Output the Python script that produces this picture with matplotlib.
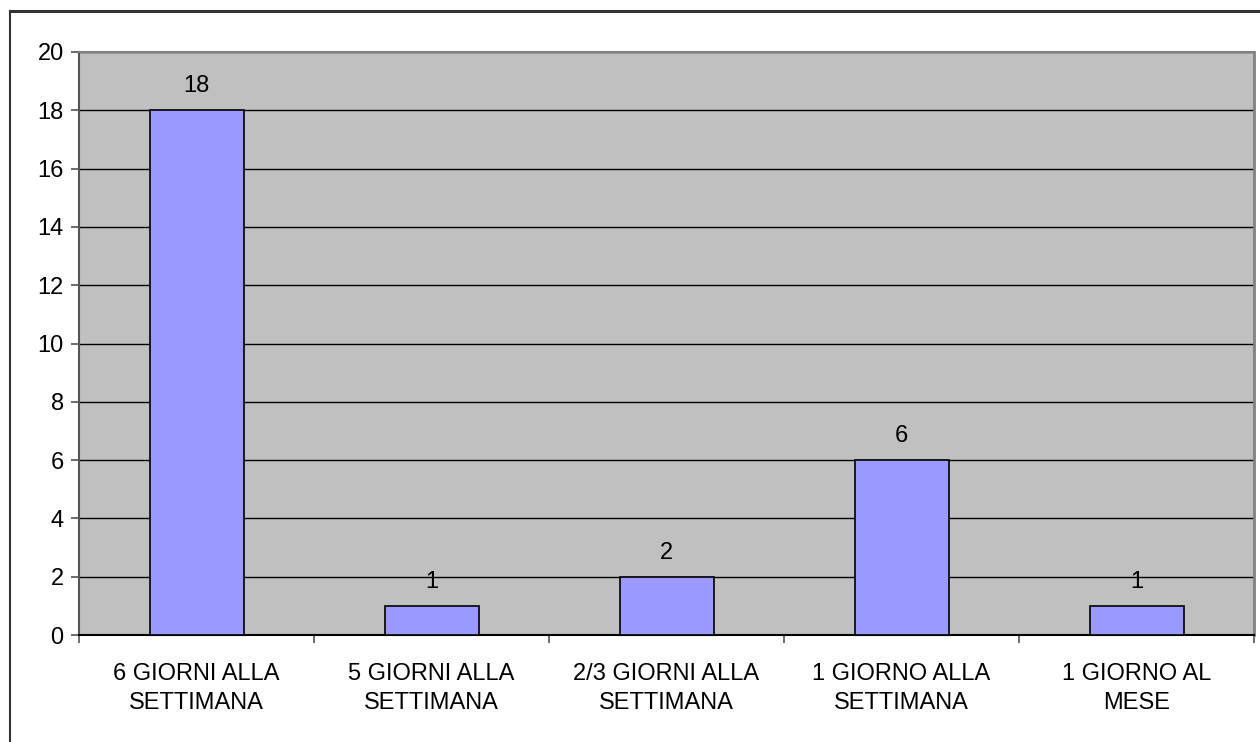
import matplotlib
matplotlib.use("Agg")
import matplotlib.pyplot as plt
from matplotlib.lines import Line2D

categories = ["6 GIORNI ALLA\nSETTIMANA", "5 GIORNI ALLA\nSETTIMANA", "2/3 GIORNI ALLA\nSETTIMANA",
              "1 GIORNO ALLA\nSETTIMANA", "1 GIORNO AL\nMESE"]
values = [18, 1, 2, 6, 1]
yticks = list(range(0, 21, 2))

plt.rcParams['font.family'] = ['Liberation Sans', 'DejaVu Sans']

W, H = 1260, 742
FS = 17
fig = plt.figure(figsize=(W / 100, H / 100), dpi=100)
fig.patch.set_facecolor('white')

# outer frame (top and left visible)
fig.add_artist(Line2D([9.5 / W, 1.0], [1 - 10.5 / H, 1 - 10.5 / H], color='#333333', lw=2.2))
fig.add_artist(Line2D([9.5 / W, 9.5 / W], [0, 1 - 10.5 / H], color='#333333', lw=1.5))

left, right, top, bottom = 79, 1254, 52, 635
ax = fig.add_axes([left / W, 1 - bottom / H, (right - left) / W, (bottom - top) / H])
ax.set_facecolor('#C0C0C0')

x = list(range(len(categories)))
ax.bar(x, values, width=0.4, color='#9999FF', edgecolor='black', linewidth=1.2, zorder=3)
for xi, v in zip(x, values):
    ax.text(xi, v + 0.45, str(v), ha='center', va='bottom', fontsize=FS, color='black', zorder=4)

ax.set_xlim(-0.5, len(categories) - 0.5)
ax.set_ylim(0, 20)
ax.set_yticks(yticks)
ax.set_yticklabels([str(t) for t in yticks], fontsize=FS)
ax.yaxis.grid(True, color='black', linewidth=1.0, zorder=1)
ax.set_axisbelow(True)

ax.set_xticks(x)
ax.set_xticklabels(categories, fontsize=FS, linespacing=1.45)
ax.tick_params(axis='x', which='major', length=0, pad=20)
ax.set_xticks([i - 0.5 for i in range(len(categories) + 1)], minor=True)
ax.tick_params(axis='x', which='minor', length=6, width=1.2, color='#555555')
ax.tick_params(axis='y', length=6, width=1.2, color='#555555', pad=5)

ax.spines['left'].set_color('#555555')
ax.spines['left'].set_linewidth(1.5)
ax.spines['bottom'].set_color('black')
ax.spines['bottom'].set_linewidth(1.5)
ax.spines['top'].set_color('#808080')
ax.spines['top'].set_linewidth(1.5)
ax.spines['right'].set_color('#808080')
ax.spines['right'].set_linewidth(2)

fig.savefig('out.png', dpi=100)
